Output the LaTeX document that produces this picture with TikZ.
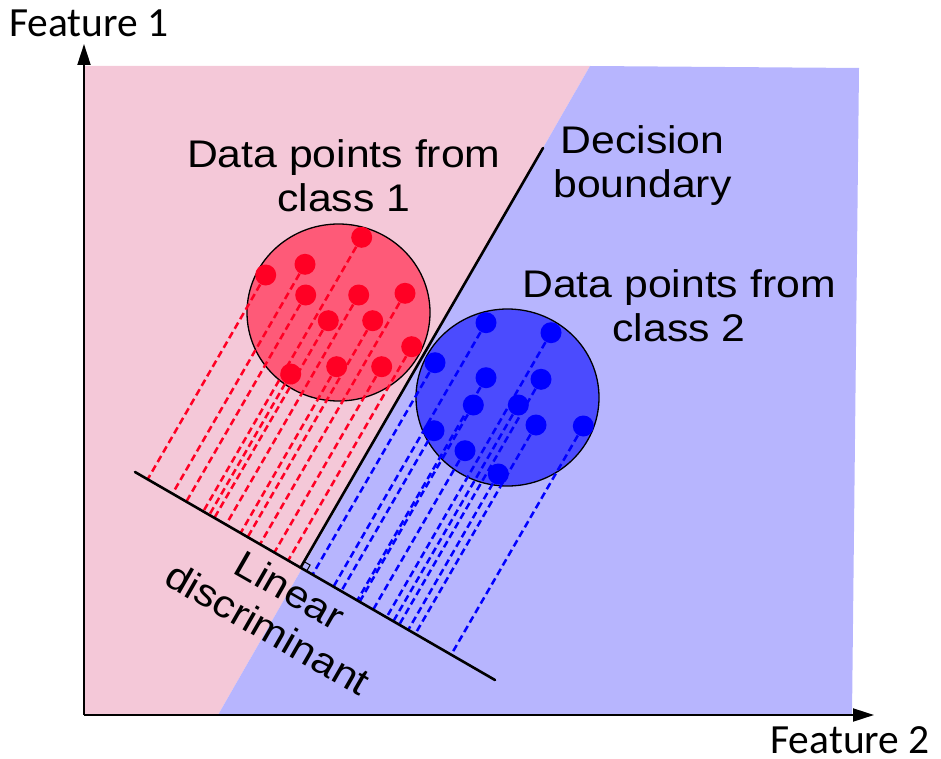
\documentclass[tikz,border=0pt]{standalone}
\usepackage{fontspec}
\setmainfont[FakeStretch=1.11]{Liberation Sans}
\newfontfamily\axisfont{Carlito}
\usepackage{tikz}
\usetikzlibrary{arrows.meta,calc,shapes.geometric}
\definecolor{cPinkBg} {HTML}{F4C8D8}
\definecolor{cBlueBg} {HTML}{B7B5FE}
\definecolor{cRedFill}{HTML}{FE5A78}
\definecolor{cBlueFill}{HTML}{4B4BFE}
\definecolor{cRedDot} {HTML}{FF0024}
\definecolor{cBlueDot}{HTML}{0000FF}
\tikzset{
  axis/.style  ={-{Triangle[length=21pt,width=13pt]},line width=2pt},
  sep/.style   ={line width=2.6pt,line cap=round},
  cloud/.style ={ellipse,draw=black,line width=1.3pt,inner sep=0pt,
                 minimum width=183pt,minimum height=177pt},
  rdot/.style  ={circle,fill=cRedDot,inner sep=0pt,minimum size=21pt},
  bdot/.style  ={circle,fill=cBlueDot,inner sep=0pt,minimum size=21pt},
  rproj/.style ={draw=cRedDot,line width=2.5pt,dash pattern=on 7pt off 4pt},
  bproj/.style ={draw=cBlueDot,line width=2.5pt,dash pattern=on 7pt off 4pt},
  lbl/.style   ={font=\fontsize{38.5}{44}\selectfont,align=center,inner sep=0pt},
  axlbl/.style ={font=\axisfont\fontsize{41.5}{44}\selectfont,inner sep=0pt},
}

\begin{document}
\begin{tikzpicture}[x=1pt,y=-1pt]
\useasboundingbox (0,0) rectangle (941,759);

% the two half planes
\fill[cPinkBg] (84,66) -- (590,66) -- (218,715) -- (84,715) -- cycle;
\fill[cBlueBg] (590,66) -- (859,68) -- (852,715) -- (218,715) -- cycle;

% axes
\coordinate (o)    at (84,715);
\coordinate (ytip) at (84,44);
\coordinate (xtip) at (874,715);
\draw[axis] (o) -- (ytip);
\draw[axis] (o) -- (xtip);
\node[axlbl,anchor=base west] (f1) at (9,37)   {Feature 1};
\node[axlbl,anchor=base east] (f2) at (930,753) {Feature 2};

% discriminant and boundary, boundary stops at its foot on the discriminant
\coordinate (ld1) at (135,472);
\coordinate (ld2) at (495,680);
\coordinate (db1) at (543,148);
\coordinate (db2) at ($(ld1)!(db1)!(ld2)$);

\node[cloud,fill=cRedFill]  (cls1) at (338.5,312.5) {};
\node[cloud,fill=cBlueFill] (cls2) at (507.5,397.5) {};

\foreach \px/\py [count=\i] in {361.7/237.3, 305/264.3, 265.7/275, 305.7/295,
    358.7/295, 405/293.3, 328.3/320.7, 372.7/320.7, 411.7/346.7, 290.7/374,
    336.7/366.7, 381.7/366.7}{
  \coordinate (r\i) at (\px,\py);
  \draw[rproj] (r\i) -- ($(ld1)!(r\i)!(ld2)$);
}
\foreach \px/\py [count=\i] in {486/322.7, 551/332.7, 435/362.7, 486/377.7,
    541/379.3, 473.3/405, 518.3/405, 434/430.7, 536/425, 583.3/426,
    465/450.7, 498.3/474}{
  \coordinate (b\i) at (\px,\py);
  \draw[bproj] (b\i) -- ($(ld1)!(b\i)!(ld2)$);
}
\foreach \i in {1,...,12}{
  \node[rdot] (rd\i) at (r\i) {};
  \node[bdot] (bd\i) at (b\i) {};
}

\draw[sep] (ld1) -- (ld2);
\draw[sep] (db1) -- (db2);
% right angle mark
\coordinate (ra) at ($(db2)!7pt!(ld2)$);
\coordinate (rb) at ($(db2)!7pt!(db1)$);
\draw[line width=1pt] (ra) -- ($(ra)+(rb)-(db2)$) -- (rb);

% base anchor sits on the last line
\node[lbl,anchor=base] (t1) at (343.8,211.7) {Data points from\\class 1};
\node[lbl,anchor=base] (t2) at (642.5,198)   {Decision\\boundary};
\node[lbl,anchor=base] (t3) at (679,341.7)   {Data points from\\class 2};
\node[lbl,rotate=-29.9] (t4) at (279,609)    {Linear\\discriminant};
\end{tikzpicture}
\end{document}
